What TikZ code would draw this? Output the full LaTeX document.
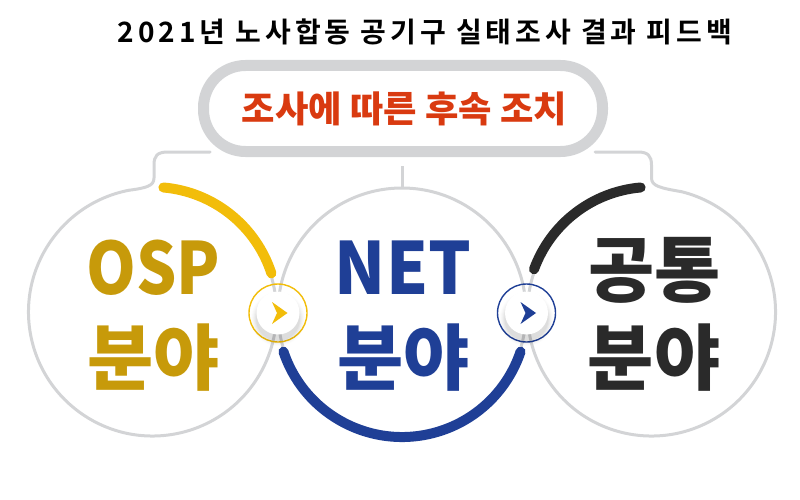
\documentclass[tikz,border=0pt]{standalone}
\usepackage{fontspec}
\setmainfont{Noto Sans CJK KR}[BoldFont={Noto Sans CJK KR Bold}]
\newfontfamily\blackf{Noto Sans CJK KR Black}
\usetikzlibrary{calc}
\definecolor{gline}{HTML}{D3D4D6}
\definecolor{yarc}{HTML}{F2BD0A}
\definecolor{ytext}{HTML}{C79A0A}
\definecolor{barc}{HTML}{1F3F96}
\definecolor{karc}{HTML}{2A2A2A}
\definecolor{redt}{HTML}{D93A10}
\tikzset{
  bigc/.style={circle,minimum size=248pt,inner sep=0pt},
  gring/.style={draw=gline,line width=3pt,line cap=round},
  conn/.style={draw=gline,line width=3pt,line cap=round},
  arcl/.style={line width=10pt,line cap=round},
  big/.style={font=\fontsize{72}{72}\selectfont\blackf,inner sep=0pt,anchor=center},
  ring/.style={circle,line width=1.4pt,minimum size=58pt,inner sep=0pt,fill=none},
  btn/.style={circle,minimum size=43pt,inner sep=0pt,fill=white},
}
\begin{document}
\begin{tikzpicture}[x=1pt,y=1pt]
\useasboundingbox (0,0) rectangle (800,-500);
\node[bigc] (L) at (152.5,-312) {};
\node[bigc] (M) at (402,-312) {};
\node[bigc] (R) at (651.5,-312) {};
\draw[gring] ($(L.center)+(101:124)$) arc[start angle=101,end angle=378,radius=124];
\draw[gring] (M) circle (124pt);
\draw[gring] ($(R.center)+(76:124)$) arc[start angle=76,end angle=-265,radius=124];
% pill
\node[draw=gline,line width=11pt,rounded corners=42pt,minimum width=399pt,minimum height=86pt,inner sep=0pt] (pill) at (403,-108.5) {};
\node[text=redt,font=\fontsize{36.3}{36.3}\selectfont\blackf,inner sep=0pt] (ptext) at (404.5,-109) {조사에 따른 후속 조치};
% title
\node[font=\fontsize{28}{28}\selectfont\bfseries\addfontfeatures{LetterSpace=14},inner sep=0pt] (title) at (425,-32) {2021년 노사합동 공기구 실태조사 결과 피드백};
% connectors
\coordinate (c1) at (210,-152);
\coordinate (c2) at (168,-152);
\coordinate (c3) at (154,-178);
\coordinate (c4) at ($(L.center)+(101:124)$);
\coordinate (c5) at (595,-152);
\coordinate (c6) at (638,-152);
\coordinate (c7) at (651.5,-178);
\coordinate (c8) at ($(R.center)+(76:124)$);
\coordinate (c9) at (402,-166);
\draw[conn] (c1) -- (c2) .. controls (157,-152) and (154,-156) .. (154,-165) -- (c3) .. controls (154,-186) and (146,-188) .. (c4);
\draw[conn] (c5) -- (c6) .. controls (648,-152) and (651.5,-156) .. (651.5,-165) -- (c7) .. controls (651.5,-186) and (660,-188) .. (c8);
\draw[conn,line cap=butt] (c9) -- (M.north);
% arcs
\draw[arcl,yarc] ($(L.center)+(85:125)$) arc[start angle=85,end angle=18,radius=125];
\draw[arcl,barc] ($(M.center)+(198.5:125)$) arc[start angle=198.5,end angle=341.5,radius=125];
\draw[arcl,karc] ($(R.center)+(160:125)$) arc[start angle=160,end angle=95,radius=125];
% texts
\node[big,text=ytext,xscale=.88] (t1) at (153.5,-268) {OSP};
\node[big,text=ytext] (t2) at (153.5,-358) {분야};
\node[big,text=barc,xscale=.93] (t3) at (403,-268) {NET};
\node[big,text=barc] (t4) at (403.5,-358) {분야};
\node[big,text=karc] (t5) at (654.5,-270) {공통};
\node[big,text=karc] (t6) at (654,-358) {분야};
% buttons
\foreach \n/\cx/\col in {a/278/yarc,b/526.5/barc}{
  \node[ring,draw=\col] (ring\n) at (\cx,-313) {};
  \foreach \r/\o in {27/.012,26/.015,25/.02,24/.025,23/.03,22/.04}
    \fill[black,opacity=\o] (\cx,-319) circle (\r pt);
  \node[btn] (btn\n) at (\cx,-313) {};
  \fill[\col] (\cx-6,-302) -- (\cx+9.5,-313) -- (\cx-6,-324) -- (\cx-1,-313) -- cycle;
}
\end{tikzpicture}
\end{document}
